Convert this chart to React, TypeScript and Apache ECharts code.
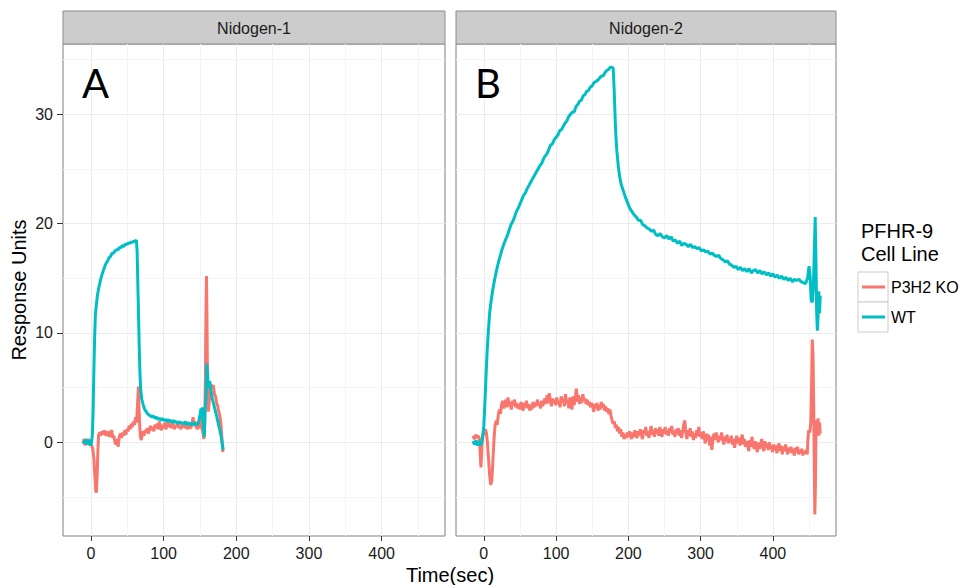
import React, { useEffect, useRef } from "react";
import * as echarts from "echarts";

const panels = ["Nidogen-1", "Nidogen-2"];
const panelTags = ["A", "B"];
const seriesNames = ["P3H2 KO", "WT"];
const seriesColors = ["#F8766D", "#00BFC4"];
const xTicks = [0, 100, 200, 300, 400];
const yTicks = [0, 10, 20, 30];
const xMinor = [50, 150, 250, 350, 450];
const yMinor = [-5, 5, 15, 25, 35];

const nid1KO: [number, number][] = [
  [-11, -0.1], [-9.5, 0.3], [-8, -0.3], [-6.5, 0.2], [-5, -0.2], [-3.5, 0.3], [-2, 0.0], [-0.5, 0.2], [1, -0.3], [2.5, -0.6],
  [4, -1.5], [5.5, -3.2], [6.5, -4.4], [7.5, -4.6], [8.5, -3.0], [9.5, -0.8], [10.5, 0.7], [12, 0.9], [13.5, 0.6], [15, 1.0],
  [16.5, 0.7], [18, 1.1], [19.5, 0.8], [21, 0.6], [22.5, 1.0], [24, 0.8], [25.5, 0.5], [27, 0.9], [28.5, 1.1], [30, 0.4],
  [31.5, 0.6], [33, 0.0], [34.5, -0.2], [36, 0.3], [37.5, -0.4], [39, 0.5], [40.5, 0.8], [42, 0.4], [43.5, 0.9], [45, 0.6],
  [46.5, 1.1], [48, 0.7], [49.5, 1.2], [51, 1.0], [52.5, 1.5], [54, 1.2], [55.5, 1.7], [57, 1.4], [58.5, 1.9], [60, 1.6],
  [61.5, 2.3], [62.5, 1.8], [63.5, 2.6], [64.5, 4.0], [65.3, 5.1], [66, 3.4], [67, 1.6], [68, 0.6], [69, 0.2], [70, 0.5],
  [71.5, 1.0], [73, 0.6], [74.5, 1.1], [76, 0.9], [77.5, 1.3], [79, 0.8], [80.5, 1.2], [82, 1.5], [83.5, 1.1], [85, 1.4],
  [86.5, 1.0], [88, 1.6], [89.5, 1.3], [91, 1.7], [92.5, 1.2], [94, 1.9], [95.5, 1.4], [97, 1.1], [98.5, 1.6], [100, 1.3],
  [101.5, 1.8], [103, 1.2], [104.5, 1.5], [106, 1.9], [107.5, 1.4], [109, 1.7], [110.5, 1.3], [112, 1.8], [113.5, 1.5], [115, 1.2],
  [116.5, 1.6], [118, 1.4], [119.5, 1.8], [121, 1.3], [122.5, 1.5], [124, 1.2], [125.5, 1.6], [127, 1.4], [128.5, 1.7], [130, 1.3],
  [131.5, 1.5], [133, 1.2], [134.5, 1.6], [136, 1.4], [137.5, 1.3], [139, 1.7], [140.5, 2.3], [142, 1.5], [143.5, 1.9], [145, 1.4],
  [146.5, 1.2], [148, 1.6], [149.5, 1.3], [151, 2.2], [152.5, 1.4], [154, 0.9], [155.5, 0.3], [156.5, 1.5], [157.5, 6.0], [158.3, 12.0],
  [159, 15.2], [159.7, 11.0], [160.5, 5.0], [161.5, 2.8], [162.5, 3.5], [164, 4.6], [165.5, 5.3], [167, 5.0], [168.5, 5.2], [170, 4.4],
  [171.5, 4.2], [173, 3.6], [174.5, 3.3], [176, 2.8], [177.5, 2.4], [179, 1.6], [180.5, 0.2], [181.5, -0.9],
];

const nid1WT: [number, number][] = [
  [-11, 0.1], [-9, -0.1], [-7, 0.3], [-5, -0.2], [-3, 0.2], [-1, -0.3], [1, 0.1], [2, 0.8], [3, 3.0], [4, 6.5],
  [5, 9.5], [6, 11.6], [7.5, 12.6], [9, 13.5], [11, 14.2], [13, 14.8], [15, 15.3], [17, 15.7], [19, 16.1], [21, 16.4],
  [23, 16.6], [25, 16.9], [27, 17.0], [29, 17.3], [31, 17.3], [33, 17.5], [35, 17.6], [37, 17.6], [39, 17.8], [41, 17.8],
  [43, 18.0], [45, 17.9], [47, 18.1], [49, 18.1], [51, 18.2], [53, 18.2], [55, 18.3], [57, 18.3], [59, 18.4], [61, 18.4],
  [62.5, 18.5], [63.5, 17.5], [64.5, 14.5], [65.5, 11.5], [66.5, 8.5], [67.5, 6.2], [68.5, 4.8], [70, 3.9], [72, 3.4], [74, 3.0],
  [76, 2.8], [78, 2.6], [80, 2.5], [82, 2.4], [84, 2.3], [86, 2.4], [88, 2.2], [90, 2.3], [92, 2.1], [94, 2.2],
  [96, 2.0], [98, 2.2], [100, 2.0], [102, 2.1], [104, 1.9], [106, 2.1], [108, 1.9], [110, 2.0], [112, 1.8], [114, 2.0],
  [116, 1.8], [118, 1.9], [120, 1.7], [122, 1.9], [124, 1.7], [126, 1.8], [128, 1.7], [130, 1.9], [132, 1.6], [134, 1.8],
  [136, 1.7], [138, 1.6], [140, 1.8], [142, 1.6], [144, 1.7], [146, 1.6], [148, 1.8], [150, 2.5], [151.5, 3.1], [152.5, 2.2],
  [153.5, 3.2], [155, 1.2], [156, 0.5], [157, 2.8], [158.5, 4.5], [159.5, 7.2], [160.5, 6.3], [161.5, 5.0], [163.5, 5.6], [165, 4.8],
  [167, 4.0], [170, 3.2], [173, 2.4], [176, 1.5], [179, 0.6], [182, -0.7],
];

const nid2KO: [number, number][] = [
  [-15, 0.6], [-13, 0.3], [-11, 0.7], [-9, 0.4], [-7.5, 0.6], [-6, 0.2], [-5, -1.0], [-4, -2.3], [-3, -1.0], [-2, 0.6],
  [0, 0.8], [2, 1.2], [3.5, 0.9], [5, 0.0], [6.5, -1.5], [8, -3.0], [9.5, -3.9], [11, -3.5], [12.5, -1.8], [14, 0.2],
  [15.5, 1.5], [17, 2.0], [18.5, 1.6], [20, 2.5], [21.5, 3.0], [23, 2.6], [24.5, 3.4], [26, 3.8], [27.5, 3.1], [29, 3.6],
  [30.5, 3.9], [32, 3.2], [33.5, 4.1], [35, 3.3], [36.5, 3.7], [38, 3.0], [39.5, 3.8], [41, 3.4], [42.5, 3.9], [44, 3.2],
  [45.5, 3.6], [47, 3.1], [48.5, 3.5], [50, 3.0], [51.5, 3.7], [53, 3.3], [54.5, 2.9], [56, 3.6], [57.5, 3.2], [59, 3.8],
  [60.5, 3.1], [62, 3.5], [63.5, 2.9], [65, 3.4], [66.5, 3.0], [68, 3.7], [69.5, 3.2], [71, 3.6], [72.5, 3.3], [74, 3.9],
  [75.5, 3.4], [77, 3.6], [78.5, 3.1], [80, 3.8], [81.5, 3.3], [83, 3.7], [84.5, 4.0], [86, 3.5], [87.5, 4.3], [89, 3.6],
  [90.5, 4.5], [92, 3.8], [93.5, 3.3], [95, 4.0], [96.5, 3.6], [98, 3.9], [99.5, 3.4], [101, 4.1], [102.5, 3.5], [104, 3.8],
  [105.5, 3.2], [107, 4.2], [108.5, 3.7], [110, 4.0], [111.5, 3.3], [113, 4.4], [114.5, 3.6], [116, 3.9], [117.5, 3.1], [119, 4.1],
  [120.5, 3.5], [122, 3.0], [123.5, 4.2], [125, 3.4], [126.5, 4.0], [128, 4.9], [129.5, 3.7], [131, 4.3], [132.5, 3.5], [134, 4.1],
  [135.5, 3.6], [137, 4.4], [138.5, 3.8], [140, 4.0], [141.5, 3.5], [143, 3.9], [144.5, 3.4], [146, 3.7], [147.5, 3.2], [149, 3.6],
  [150.5, 3.3], [152, 2.8], [153.5, 3.5], [155, 3.1], [156.5, 3.6], [158, 2.9], [159.5, 3.4], [161, 3.0], [162.5, 3.7], [164, 3.2],
  [165.5, 3.5], [167, 2.9], [168.5, 3.3], [170, 2.8], [171.5, 3.1], [173, 2.6], [174.5, 3.0], [176, 2.4], [177.5, 2.0], [179, 1.7],
  [180.5, 1.9], [182, 1.3], [183.5, 1.6], [185, 1.0], [186.5, 1.4], [188, 0.8], [189.5, 1.2], [191, 0.5], [192.5, 0.9], [194, 0.3],
  [195.5, 0.7], [197, 0.4], [198.5, 0.9], [200, 0.5], [201.5, 1.0], [203, 0.6], [204.5, 0.3], [206, 0.9], [207.5, 0.5], [209, 1.1],
  [210.5, 0.6], [212, 0.4], [213.5, 1.0], [215, 0.6], [216.5, 1.2], [218, 0.7], [219.5, 0.3], [221, 1.1], [222.5, 0.8], [224, 1.4],
  [225.5, 0.6], [227, 1.0], [228.5, 0.4], [230, 0.9], [231.5, 1.5], [233, 0.7], [234.5, 1.1], [236, 0.5], [237.5, 1.3], [239, 0.8],
  [240.5, 1.2], [242, 0.6], [243.5, 1.4], [245, 0.9], [246.5, 0.5], [248, 1.2], [249.5, 0.8], [251, 1.4], [252.5, 0.7], [254, 1.1],
  [255.5, 0.6], [257, 1.3], [258.5, 0.9], [260, 1.5], [261.5, 0.7], [263, 1.0], [264.5, 0.5], [266, 1.2], [267.5, 0.8], [269, 1.3],
  [270.5, 0.6], [272, 1.1], [273.5, 0.4], [275, 0.9], [276.5, 1.6], [278, 2.0], [279.5, 0.9], [281, 0.3], [282.5, 1.1], [284, 0.6],
  [285.5, 1.3], [287, 0.5], [288.5, 1.0], [290, 0.2], [291.5, 0.8], [293, 0.4], [294.5, 1.1], [296, 0.6], [297.5, 1.4], [299, 0.5],
  [300.5, 0.9], [302, 0.3], [303.5, 1.0], [305, 0.5], [306.5, -0.1], [308, 0.8], [309.5, 0.2], [311, 0.7], [312.5, -0.3], [314, 0.5],
  [315.5, -0.7], [317, 0.3], [318.5, 0.8], [320, 0.2], [321.5, 0.9], [323, 0.4], [324.5, 0.0], [326, 0.6], [327.5, 0.2], [329, 0.9],
  [330.5, 0.3], [332, -0.2], [333.5, 0.5], [335, 0.1], [336.5, 0.7], [338, -0.1], [339.5, 0.4], [341, 0.0], [342.5, 0.6], [344, -0.2],
  [345.5, 0.3], [347, -0.5], [348.5, 0.2], [350, 0.6], [351.5, -0.1], [353, 0.4], [354.5, -0.3], [356, 0.2], [357.5, 0.7], [359, -0.2],
  [360.5, 0.3], [362, -0.4], [363.5, 0.1], [365, -0.3], [366.5, -0.8], [368, 0.2], [369.5, -0.4], [371, 0.5], [372.5, -0.2], [374, -0.6],
  [375.5, 0.1], [377, -0.5], [378.5, -0.9], [380, 0.0], [381.5, -0.6], [383, -0.2], [384.5, 0.3], [386, -0.4], [387.5, -0.8], [389, 0.1],
  [390.5, -0.5], [392, -0.1], [393.5, -0.7], [395, 0.0], [396.5, -0.6], [398, -0.3], [399.5, -0.9], [401, -0.2], [402.5, -0.7], [404, -0.3],
  [405.5, -1.0], [407, -0.4], [408.5, -0.1], [410, -0.8], [411.5, -0.3], [413, -1.1], [414.5, -0.4], [416, -0.8], [417.5, -0.2], [419, -0.7],
  [420.5, -1.1], [422, -0.5], [423.5, -0.9], [425, -0.4], [426.5, -1.0], [428, -0.6], [429.5, -1.2], [431, -0.5], [432.5, -0.9], [434, -0.4],
  [435.5, -1.1], [437, -0.7], [438.5, -1.0], [440, -0.6], [441.5, -1.2], [443, -0.8], [444.5, -1.0], [446, -0.7], [447.5, -1.1], [448.5, 0.4],
  [449.5, 1.1], [451, 0.9], [452.5, 1.8], [453.5, 5.0], [454.5, 9.4], [455.5, 8.0], [456.5, 3.0], [457.3, -2.5], [458, -6.6], [458.8, -4.0],
  [459.5, 0.5], [460.5, 2.0], [461.5, 1.0], [462.5, 2.2], [463.5, 0.6], [464.5, 1.8], [465.5, 0.8],
];

const nid2WT: [number, number][] = [
  [-15, 0.1], [-13, -0.2], [-11, 0.2], [-9, -0.3], [-7, 0.1], [-5, -0.3], [-3, 0.0], [-1.5, 0.5], [0, 1.5], [1.5, 3.6],
  [3, 6.0], [4.5, 8.2], [6, 9.9], [8, 11.8], [10, 12.9], [12.5, 14.0], [15, 14.9], [17.5, 15.7], [20, 16.4], [22.5, 17.0],
  [25, 17.6], [27.5, 18.1], [30, 18.5], [32.5, 18.9], [35, 19.4], [37.5, 19.9], [40, 20.2], [42.5, 20.6], [45, 21.1], [47.5, 21.4],
  [50, 21.8], [52.5, 22.2], [55, 22.6], [57.5, 22.8], [60, 23.2], [62.5, 23.5], [65, 23.8], [67.5, 24.1], [70, 24.4], [72.5, 24.7],
  [75, 25.0], [77.5, 25.3], [80, 25.5], [82.5, 25.9], [85, 26.2], [87.5, 26.4], [90, 26.8], [92.5, 27.2], [95, 27.3], [97.5, 27.7],
  [100, 27.9], [102.5, 28.1], [105, 28.5], [107.5, 28.6], [110, 28.9], [112.5, 29.2], [115, 29.4], [117.5, 29.8], [120, 30.0], [122.5, 30.2],
  [125, 30.2], [127.5, 30.7], [130, 30.9], [132.5, 31.2], [135, 31.3], [137.5, 31.7], [140, 31.8], [142.5, 32.1], [145, 32.2], [147.5, 32.5],
  [150, 32.6], [152.5, 32.9], [155, 33.0], [157.5, 33.1], [160, 33.3], [162.5, 33.5], [165, 33.5], [167.5, 33.8], [170, 34.0], [172.5, 34.1],
  [175, 34.3], [177.5, 34.3], [179, 34.2], [180.5, 32.0], [181.5, 30.0], [182.5, 28.3], [184, 26.7], [186, 25.3], [188, 24.3], [190, 23.6],
  [193, 23.0], [196, 22.4], [199, 21.9], [202, 21.4], [205, 21.1], [208, 20.8], [211, 20.6], [214, 20.3], [217, 20.3], [220, 19.9],
  [223, 19.8], [226, 19.6], [229, 19.5], [232, 19.3], [235, 19.4], [238, 19.0], [241, 18.9], [244, 19.1], [247, 18.8], [250, 18.7],
  [253, 18.9], [256, 18.6], [259, 18.8], [262, 18.4], [265, 18.5], [268, 18.2], [271, 18.4], [274, 18.0], [277, 18.2], [280, 18.1],
  [283, 17.9], [286, 18.1], [289, 17.8], [292, 17.9], [295, 17.7], [298, 17.8], [301, 17.5], [304, 17.6], [307, 17.4], [310, 17.5],
  [313, 17.2], [316, 17.3], [319, 17.1], [322, 17.0], [325, 17.1], [328, 16.8], [331, 16.7], [334, 16.5], [337, 16.6], [340, 16.3],
  [343, 16.2], [346, 16.0], [349, 16.1], [352, 15.8], [355, 16.0], [358, 15.7], [361, 15.9], [364, 15.6], [367, 15.9], [370, 15.5],
  [373, 15.7], [376, 15.8], [379, 15.5], [382, 15.7], [385, 15.4], [388, 15.6], [391, 15.3], [394, 15.5], [397, 15.2], [400, 15.4],
  [403, 15.1], [406, 15.3], [409, 15.0], [412, 15.2], [415, 14.9], [418, 15.1], [421, 14.8], [424, 15.0], [427, 14.7], [430, 14.9],
  [433, 14.8], [436, 14.9], [439, 14.7], [442, 14.6], [445, 14.5], [448, 15.0], [450, 16.1], [451.5, 15.2], [453, 13.0], [454.5, 12.8],
  [456, 14.2], [457.5, 18.0], [458.5, 20.6], [459.5, 17.0], [460.5, 12.0], [461.5, 10.2], [462.5, 11.5], [463.5, 13.8], [464.5, 11.8], [465.5, 13.4],
];

const panelData = [
  [nid1KO, nid1WT],
  [nid2KO, nid2WT],
];

const FONT = "'Liberation Sans', Arial, sans-serif";
const X_MIN = -38.5;
const X_MAX = 487.3;
const Y_MIN = -8.57;
const Y_MAX = 36.43;

const gridBoxes = [
  { left: 63, top: 44, width: 382, height: 492 },
  { left: 456, top: 44, width: 380, height: 492 },
];

export default function App() {
  const ref = useRef<HTMLDivElement>(null);
  useEffect(() => {
    if (!ref.current) return;
    const chart = echarts.init(ref.current, null, { renderer: "svg" });

    const series: any[] = [];
    panels.forEach((_, i) => {
      series.push({
        type: "line",
        name: "minor-grid-" + i,
        xAxisIndex: i,
        yAxisIndex: i,
        data: [],
        z: 1,
        silent: true,
        markLine: {
          silent: true,
          z: 1,
          symbol: "none",
          label: { show: false },
          lineStyle: { color: "#F4F4F4", width: 1, type: "solid" },
          emphasis: { disabled: true },
          data: [...xMinor.map((v) => ({ xAxis: v })), ...yMinor.map((v) => ({ yAxis: v }))],
        },
      });
    });
    panels.forEach((_, i) => {
      seriesNames.forEach((name, s) => {
        series.push({
          type: "line",
          name,
          xAxisIndex: i,
          yAxisIndex: i,
          data: panelData[i][s],
          showSymbol: false,
          symbol: "none",
          z: 3 + s,
          lineStyle: { color: seriesColors[s], width: 3 },
          itemStyle: { color: seriesColors[s] },
        });
      });
    });

    const graphic: any[] = [];
    panels.forEach((p, i) => {
      const g = gridBoxes[i];
      graphic.push({
        type: "rect",
        shape: { x: g.left, y: 11, width: g.width, height: 33 },
        style: { fill: "#CCCCCC", stroke: "#8C8C8C", lineWidth: 1 },
      });
      graphic.push({
        type: "text",
        x: g.left + g.width / 2,
        y: 28,
        style: { text: p, font: "16px " + FONT, fill: "#1A1A1A", align: "center", verticalAlign: "middle" },
      });
      graphic.push({
        type: "text",
        x: g.left + 19,
        y: 83,
        z: 10,
        style: { text: panelTags[i], font: "40px Lato, 'Open Sans', sans-serif", fill: "#000", align: "left", verticalAlign: "middle" },
      });
    });
    graphic.push({
      type: "text",
      x: 450,
      y: 575,
      style: { text: "Time(sec)", font: "20px " + FONT, fill: "#000", align: "center", verticalAlign: "middle" },
    });
    graphic.push({
      type: "text",
      x: 861,
      y: 231,
      style: { text: "PFHR-9", font: "20px " + FONT, fill: "#000", align: "left", verticalAlign: "middle" },
    });
    graphic.push({
      type: "text",
      x: 861,
      y: 254,
      style: { text: "Cell Line", font: "20px " + FONT, fill: "#000", align: "left", verticalAlign: "middle" },
    });
    [272, 302].forEach((y) => {
      graphic.push({
        type: "rect",
        shape: { x: 858, y, width: 30, height: 30 },
        style: { fill: "#FFFFFF", stroke: "#CCCCCC", lineWidth: 1 },
      });
    });

    const option: any = {
      animation: false,
      backgroundColor: "#FFFFFF",
      textStyle: { fontFamily: FONT },
      grid: gridBoxes.map((g) => ({
        ...g,
        show: true,
        borderColor: "#7F7F7F",
        borderWidth: 1,
        backgroundColor: "#FFFFFF",
        containLabel: false,
      })),
      xAxis: panels.map((_, i) => ({
        type: "value",
        gridIndex: i,
        min: X_MIN,
        max: X_MAX,
        position: "bottom",
        axisLine: { show: false, onZero: false },
        axisTick: { show: true, length: 5, customValues: xTicks, lineStyle: { color: "#333333" } },
        axisLabel: { customValues: xTicks, fontSize: 16, color: "#1A1A1A", margin: 9, fontFamily: FONT },
        splitLine: { show: true, lineStyle: { color: "#EBEBEB", width: 1 } },
      })),
      yAxis: panels.map((_, i) => ({
        type: "value",
        gridIndex: i,
        min: Y_MIN,
        max: Y_MAX,
        position: "left",
        name: i === 0 ? "Response Units" : "",
        nameLocation: "middle",
        nameGap: 34,
        nameRotate: 90,
        nameTextStyle: { fontSize: 20, color: "#000", fontFamily: FONT },
        axisLine: { show: false, onZero: false },
        axisTick: { show: i === 0, length: 6, customValues: yTicks, lineStyle: { color: "#333333" } },
        axisLabel: { show: i === 0, customValues: yTicks, fontSize: 16, color: "#1A1A1A", margin: 10, fontFamily: FONT },
        splitLine: { show: true, lineStyle: { color: "#EBEBEB", width: 1 } },
      })),
      legend: {
        data: seriesNames,
        orient: "vertical",
        left: 862,
        top: 272,
        padding: 0,
        itemGap: 0,
        itemWidth: 23,
        itemHeight: 3,
        icon: "rect",
        selectedMode: false,
        textStyle: { fontSize: 16, color: "#000", fontFamily: FONT, lineHeight: 30, padding: [0, 0, 0, 1] },
      },
      graphic,
      series,
    };
    chart.setOption(option);
    return () => chart.dispose();
  }, []);
  return <div ref={ref} style={{ position: "fixed", left: 0, top: 0, width: 967, height: 585 }} />;
}
